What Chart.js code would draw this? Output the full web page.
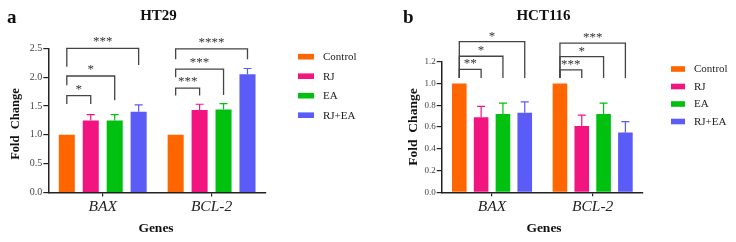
<!DOCTYPE html>
<html><head><meta charset="utf-8">
<script src="https://cdn.jsdelivr.net/npm/chart.js@4/dist/chart.umd.min.js"></script>
<style>
html,body{margin:0;padding:0;background:#fff;width:736px;height:242px;overflow:hidden}
.p{position:absolute;top:0;width:368px;height:242px}
canvas{display:block}
</style></head><body>
<div class="p" style="left:0"><canvas id="ca" width="368" height="242"></canvas></div>
<div class="p" style="left:368px"><canvas id="cb" width="368" height="242"></canvas></div>
<script>
// ---------- data ----------
const genes = ['BAX', 'BCL-2'];
const seriesNames = ['Control', 'RJ', 'EA', 'RJ+EA'];
const seriesColors = ['#FF6600', '#F2157F', '#00C010', '#5B5BF8'];

// HT29 (panel a)
const ht29Control = [1.00, 1.00];
const ht29RJ      = [1.25, 1.43];
const ht29EA      = [1.25, 1.44];
const ht29RJEA    = [1.40, 2.05];
const ht29ErrControl = [0, 0];
const ht29ErrRJ      = [0.10, 0.10];
const ht29ErrEA      = [0.10, 0.10];
const ht29ErrRJEA    = [0.12, 0.10];
const ht29Ticks = [0.0, 0.5, 1.0, 1.5, 2.0, 2.5];
// [gene index, compared series index, label, bracket top, left leg end, right leg end]
const ht29Sig = [
  [0, 1, '*',    1.68, 1.535, 1.535],
  [0, 2, '*',    2.02, 1.86,  1.60],
  [0, 3, '***',  2.50, 2.18,  2.21],
  [1, 1, '***',  1.81, 1.68,  1.68],
  [1, 2, '***',  2.14, 2.00,  1.69],
  [1, 3, '****', 2.49, 2.31,  2.31]
];

// HCT116 (panel b)
const hctControl = [1.00, 1.00];
const hctRJ      = [0.69, 0.61];
const hctEA      = [0.72, 0.72];
const hctRJEA    = [0.73, 0.55];
const hctErrControl = [0, 0];
const hctErrRJ      = [0.10, 0.10];
const hctErrEA      = [0.10, 0.10];
const hctErrRJEA    = [0.10, 0.10];
const hctTicks = [0.0, 0.2, 0.4, 0.6, 0.8, 1.0, 1.2];
const hctSig = [
  [0, 1, '**',  1.13, 1.05, 1.05],
  [0, 2, '*',   1.25, 1.05, 1.05],
  [0, 3, '*',   1.384, 1.05, 1.05],
  [1, 1, '***', 1.124, 1.05, 1.05],
  [1, 2, '*',   1.246, 1.05, 1.05],
  [1, 3, '***', 1.37, 1.05, 1.05]
];

// ---------- drawing ----------
const SERIF = '"Liberation Serif","Times New Roman",serif';

const deco = {
  id: 'deco',
  afterDatasetsDraw(chart, args, o) {
    const ctx = chart.ctx, ys = chart.scales.y;
    chart.data.datasets.forEach((ds, di) => {
      const meta = chart.getDatasetMeta(di);
      meta.data.forEach((bar, i) => {
        const e = o.errors[di][i];
        if (!e) return;
        const yTop = ys.getPixelForValue(ds.data[i] + e);
        ctx.save();
        ctx.strokeStyle = ds.backgroundColor;
        ctx.lineWidth = 1.2;
        ctx.beginPath();
        ctx.moveTo(bar.x, bar.y);
        ctx.lineTo(bar.x, yTop);
        ctx.moveTo(bar.x - o.cap, yTop);
        ctx.lineTo(bar.x + o.cap, yTop);
        ctx.stroke();
        ctx.restore();
      });
    });
  },
  afterDraw(chart, args, o) {
    const ctx = chart.ctx, ys = chart.scales.y;
    ctx.save();
    // significance brackets
    ctx.strokeStyle = '#444';
    ctx.lineWidth = 1.3;
    o.sig.forEach(s => {
      const [g, t, lab, top, lb, rb] = s;
      const x1 = chart.getDatasetMeta(0).data[g].x;
      const x2 = chart.getDatasetMeta(t).data[g].x;
      const yt = ys.getPixelForValue(top);
      ctx.beginPath();
      ctx.moveTo(x1, ys.getPixelForValue(lb));
      ctx.lineTo(x1, yt);
      ctx.lineTo(x2, yt);
      ctx.lineTo(x2, ys.getPixelForValue(rb));
      ctx.stroke();
      ctx.fillStyle = '#333';
      ctx.font = '13px ' + SERIF;
      ctx.textAlign = 'center';
      ctx.textBaseline = 'alphabetic';
      ctx.fillText(lab, (x1 + x2) / 2, yt - o.starOff);
    });
    // legend
    chart.data.datasets.forEach((ds, i) => {
      const y = o.legY + i * o.legStep;
      ctx.fillStyle = ds.backgroundColor;
      ctx.fillRect(o.legX, y - 2.8, o.legW, 5.6);
      ctx.fillStyle = '#222';
      ctx.font = '11px ' + SERIF;
      ctx.textAlign = 'left';
      ctx.textBaseline = 'middle';
      ctx.fillText(ds.label, o.legX + o.legW + 9, y + 0.5);
    });
    // panel letter & title
    ctx.fillStyle = '#111';
    ctx.textBaseline = 'alphabetic';
    ctx.textAlign = 'left';
    ctx.font = 'bold 19px ' + SERIF;
    ctx.fillText(o.letter, o.letterX, 23);
    ctx.textAlign = 'center';
    ctx.font = 'bold 15px ' + SERIF;
    ctx.fillText(o.title, o.titleX, 20);
    // axis titles
    ctx.font = 'bold 13.5px ' + SERIF;
    ctx.textBaseline = 'middle';
    ctx.fillText('Genes', o.genesX, 229);
    ctx.save();
    ctx.translate(o.ylabX, o.ylabY);
    ctx.rotate(-Math.PI / 2);
    ctx.font = 'bold ' + o.ylabSize + 'px ' + SERIF;
    ctx.fillText('Fold  Change', 0, 0);
    ctx.restore();
    ctx.restore();
  }
};

function makeChart(id, vals, errs, ticks, sig, geo) {
  const datasets = seriesNames.map((n, i) => ({
    label: n, data: vals[i], backgroundColor: seriesColors[i], borderWidth: 0,
    categoryPercentage: geo.cp, barPercentage: geo.bp
  }));
  return new Chart(document.getElementById(id), {
    type: 'bar',
    data: { labels: genes, datasets },
    options: {
      responsive: false, animation: false, devicePixelRatio: 1,
      layout: { padding: { left: 0, right: geo.padRight, top: geo.padTop, bottom: 0 } },
      plugins: {
        legend: { display: false }, tooltip: { enabled: false },
        deco: Object.assign({ errors: errs, sig }, geo.deco)
      },
      scales: {
        x: {
          grid: { display: true, drawOnChartArea: false, drawTicks: true, tickLength: 4, offset: false, color: '#222', lineWidth: 1.2 },
          border: { display: true, color: '#222', width: 1.5 },
          ticks: { color: '#222', padding: 1, font: { family: SERIF, size: 15.5, style: 'italic' } },
          afterFit: s => { s.height = geo.xH; }
        },
        y: {
          min: ticks[0], max: ticks[ticks.length - 1],
          afterBuildTicks: s => { s.ticks = ticks.map(v => ({ value: v })); },
          grid: { display: true, drawOnChartArea: false, drawTicks: true, tickLength: 5, color: '#222', lineWidth: 1.2 },
          border: { display: true, color: '#222', width: 1.5 },
          ticks: { color: '#444', padding: 1, font: { family: SERIF, size: geo.tickSize }, callback: v => Number(v).toFixed(1) },
          afterFit: s => { s.width = geo.yW; }
        }
      }
    },
    plugins: [deco]
  });
}

makeChart('ca',
  [ht29Control, ht29RJ, ht29EA, ht29RJEA],
  [ht29ErrControl, ht29ErrRJ, ht29ErrEA, ht29ErrRJEA],
  ht29Ticks, ht29Sig,
  { cp: 0.88, bp: 0.67, padRight: 102, padTop: 48.3, xH: 49.5, yW: 48.3, tickSize: 10,
    deco: { cap: 4, starOff: 3, legX: 298, legW: 16, legY: 56.7, legStep: 19.5,
            letter: 'a', letterX: 7, title: 'HT29', titleX: 158.5,
            genesX: 156, ylabX: 16, ylabY: 124, ylabSize: 12.5 } });

makeChart('cb',
  [hctControl, hctRJ, hctEA, hctRJEA],
  [hctErrControl, hctErrRJ, hctErrEA, hctErrRJEA],
  hctTicks, hctSig,
  { cp: 0.867, bp: 0.67, padRight: 93, padTop: 61.7, xH: 49.7, yW: 73.7, tickSize: 9,
    deco: { cap: 4, starOff: 2, legX: 303, legW: 14, legY: 69, legStep: 17.5,
            letter: 'b', letterX: 35, title: 'HCT116', titleX: 175.5,
            genesX: 176, ylabX: 46, ylabY: 127, ylabSize: 13.5 } });
</script>
</body></html>
